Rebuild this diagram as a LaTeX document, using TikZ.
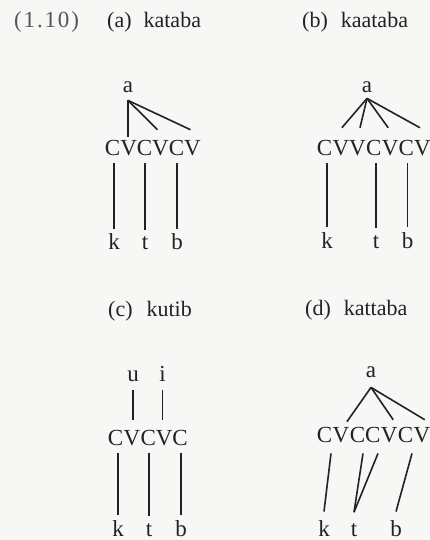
\documentclass[tikz,border=0pt]{standalone}
\usepackage{fontspec}
\setmainfont{Liberation Serif}
\usetikzlibrary{calc}
\definecolor{ink}{HTML}{222222}
\definecolor{numink}{HTML}{555555}
\definecolor{paper}{HTML}{F7F7F5}
\begin{document}
\begin{tikzpicture}[x=1pt,y=-1pt,
  lbl/.style={inner sep=0pt, anchor=base, text=ink, font=\fontsize{23}{27}\selectfont},
  head/.style={inner sep=0pt, anchor=base west, text=ink, font=\fontsize{22}{26}\selectfont},
  seg/.style={draw=ink, line width=1.6pt}]
\fill[paper] (0,0) rectangle (430,540);
\useasboundingbox (0,0) rectangle (430,540);

% headings
\node[head, text=numink, font=\fontsize{23}{27}\selectfont\addfontfeature{LetterSpace=8}] (num) at (14,28) {(1.10)};
\node[head] (ha) at (107,27.5) {(a)\hspace{12pt}kataba};
\node[head] (hb) at (302,27.5) {(b)\hspace{13pt}kaataba};
\node[head] (hc) at (108,316) {(c)\hspace{14pt}kutib};
\node[head] (hd) at (305,315) {(d)\hspace{13pt}kattaba};

% ---------- tree (a)
\node[lbl] (aA) at (128,93) {a};
\node[lbl] (aC1) at (112.6,156) {C};
\node[lbl] (aV1) at (128.6,156) {V};
\node[lbl] (aC2) at (144.6,156) {C};
\node[lbl] (aV2) at (160.5,156) {V};
\node[lbl] (aC3) at (176.5,156) {C};
\node[lbl] (aV3) at (192.5,156) {V};
\node[lbl] (ak) at (114,249) {k};
\node[lbl] (at) at (145,249) {t};
\node[lbl] (ab) at (177,249) {b};
\draw[seg] ($(aA.south)+(0,7)$) -- ($(aV1.north)+(-0.6,-4)$);
\draw[seg] ($(aA.south)+(0,7)$) -- ($(aV2.north)+(-3,-11)$);
\draw[seg] ($(aA.south)+(0,7)$) -- ($(aV3.north)+(-2,-11)$);
\draw[seg] ($(ak.north |- aC1.south)+(0,7)$) -- ($(ak.north)+(0,-4)$);
\draw[seg] ($(at.north |- aC2.south)+(0,7)$) -- ($(at.north)+(0,-6)$);
\draw[seg] ($(ab.north |- aC3.south)+(0,7)$) -- ($(ab.north)+(0,-4)$);

% ---------- tree (b)
\node[lbl] (bA) at (367,93) {a};
\node[lbl] (bC1) at (324.6,156) {C};
\node[lbl] (bV1) at (340.9,156) {V};
\node[lbl] (bV2) at (357.5,156) {V};
\node[lbl] (bC2) at (373.8,156) {C};
\node[lbl] (bV3) at (390.2,156) {V};
\node[lbl] (bC3) at (406.2,156) {C};
\node[lbl] (bV4) at (422.5,156) {V};
\node[lbl] (bk) at (327,248) {k};
\node[lbl] (bt) at (376,248) {t};
\node[lbl] (bb) at (407.5,248) {b};
\draw[seg] ($(bA.south)+(0,5)$) -- ($(bV1.north)+(1,-13)$);
\draw[seg] ($(bA.south)+(0,5)$) -- ($(bV2.north)+(2.5,-13)$);
\draw[seg] ($(bA.south)+(0,5)$) -- ($(bV3.north)+(-2,-13)$);
\draw[seg] ($(bA.south)+(0,5)$) -- ($(bV4.north)+(-2.5,-13)$);
\draw[seg] ($(bk.north |- bC1.south)+(0,7)$) -- ($(bk.north)+(0,-5)$);
\draw[seg] ($(bt.north |- bC2.south)+(0,7)$) -- ($(bt.north)+(0,-7)$);
\draw[seg] ($(bb.north |- bC3.south)+(0,7)$) -- ($(bb.north)+(0,-5)$);

% ---------- tree (c)
\node[lbl] (cu) at (133,381) {u};
\node[lbl] (ci) at (162.5,381) {i};
\node[lbl] (cC1) at (115.6,445) {C};
\node[lbl] (cV1) at (131.9,445) {V};
\node[lbl] (cC2) at (148.2,445) {C};
\node[lbl] (cV2) at (164.1,445) {V};
\node[lbl] (cC3) at (180,445) {C};
\node[lbl] (ck) at (118,536) {k};
\node[lbl] (ct) at (149,536) {t};
\node[lbl] (cb) at (181,536) {b};
\draw[seg] ($(cu.south)+(0,9)$) -- ($(cu.south |- cV1.north)+(0,-10)$);
\draw[seg] ($(ci.south)+(0,9)$) -- ($(ci.south |- cV2.north)+(0,-10)$);
\draw[seg] ($(ck.north |- cC1.south)+(0,8)$) -- ($(ck.north)+(0,-4.5)$);
\draw[seg] ($(ct.north |- cC2.south)+(0,8)$) -- ($(ct.north)+(0,-6.5)$);
\draw[seg] ($(cb.north |- cC3.south)+(0,8)$) -- ($(cb.north)+(0,-4.5)$);

% ---------- tree (d)
\node[lbl] (dA) at (371,377) {a};
\node[lbl] (dC1) at (324.6,442) {C};
\node[lbl] (dV1) at (340.9,442) {V};
\node[lbl] (dC2) at (357.5,442) {C};
\node[lbl] (dC3) at (372.8,442) {C};
\node[lbl] (dV2) at (389.2,442) {V};
\node[lbl] (dC4) at (405.5,442) {C};
\node[lbl] (dV3) at (421.8,442) {V};
\node[lbl] (dk) at (324,536) {k};
\node[lbl] (dt) at (354,536) {t};
\node[lbl] (db) at (396,536) {b};
\draw[seg] ($(dA.south)+(0,10)$) -- ($(dV1.north)+(6,-5)$);
\draw[seg] ($(dA.south)+(0,10)$) -- ($(dV2.north)+(4,-7)$);
\draw[seg] ($(dA.south)+(0,10)$) -- ($(dV3.north)+(3,-7)$);
\draw[seg] ($(dC1.south)+(6.4,11)$) -- ($(dk.north)+(0,-8.3)$);
\draw[seg] ($(dC2.south)+(5.5,11)$) -- ($(dt.north)+(0,-10.7)$);
\draw[seg] ($(dC3.south)+(5.2,11)$) -- ($(dt.north)+(0,-10.7)$);
\draw[seg] ($(dC4.south)+(6.5,11)$) -- ($(db.north)+(0,-8.3)$);
\end{tikzpicture}
\end{document}
